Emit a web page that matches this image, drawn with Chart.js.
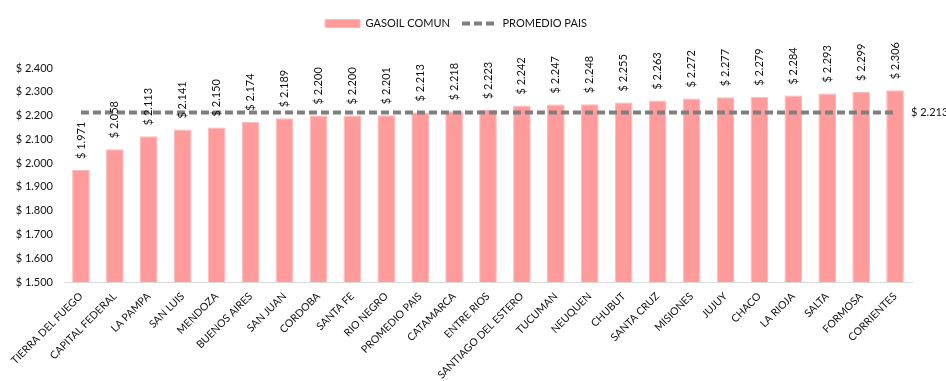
<!DOCTYPE html>
<html>
<head>
<meta charset="utf-8">
<script src="https://cdn.jsdelivr.net/npm/chart.js@4/dist/chart.umd.min.js"></script>
<style>
  html, body { margin: 0; padding: 0; background: #fff; }
  #wrap { width: 946px; height: 381px; position: relative; }
</style>
</head>
<body>
<div id="wrap"><canvas id="gasoilChart"></canvas></div>
<script>
// precio del gasoil comun por provincia
const provincias = [
    'TIERRA DEL FUEGO', 'CAPITAL FEDERAL', 'LA PAMPA', 'SAN LUIS', 'MENDOZA',
    'BUENOS AIRES', 'SAN JUAN', 'CORDOBA', 'SANTA FE', 'RIO NEGRO',
    'PROMEDIO PAIS', 'CATAMARCA', 'ENTRE RIOS', 'SANTIAGO DEL ESTERO', 'TUCUMAN',
    'NEUQUEN', 'CHUBUT', 'SANTA CRUZ', 'MISIONES', 'JUJUY',
    'CHACO', 'LA RIOJA', 'SALTA', 'FORMOSA', 'CORRIENTES'
];
const gasoilComun = [
    1971, 2058, 2113, 2141, 2150,
    2174, 2189, 2200, 2200, 2201,
    2213, 2218, 2223, 2242, 2247,
    2248, 2255, 2263, 2272, 2277,
    2279, 2284, 2293, 2299, 2306
];
const promedioPais = 2213;
const promedioSerie = provincias.map(() => promedioPais);

const yMin = 1500;
const yMax = 2400;
const yStep = 100;

const FONT = 'Lato, "Open Sans", sans-serif';
const LINE_DASH = [8, 4];

function pesos(v) {
    return '$ ' + String(Math.round(v)).replace(/\B(?=(\d{3})+(?!\d))/g, '.');
}

// deja espacio libre entre la leyenda y el area del grafico
const legendGap = {
    id: 'legendGap',
    beforeInit(chart) {
        const fit = chart.legend.fit;
        chart.legend.fit = function () {
            fit.call(this);
            this.height += 29;
        };
    }
};

// etiquetas de valor: verticales sobre cada barra, y el promedio al final de la linea
const valueLabels = {
    id: 'valueLabels',
    afterDatasetsDraw(chart) {
        const ctx = chart.ctx;
        ctx.save();
        ctx.font = '11px ' + FONT;
        ctx.fillStyle = '#111';

        const bars = chart.getDatasetMeta(0);
        bars.data.forEach((bar, i) => {
            ctx.save();
            ctx.translate(bar.x, bar.y - 11);
            ctx.rotate(-Math.PI / 2);
            ctx.textAlign = 'left';
            ctx.textBaseline = 'middle';
            ctx.fillText(pesos(chart.data.datasets[0].data[i]), 0, 0);
            ctx.restore();
        });

        const line = chart.getDatasetMeta(1);
        const n = line.data.length - 1;
        const last = line.data[n];
        ctx.textAlign = 'left';
        ctx.textBaseline = 'middle';
        ctx.fillText(pesos(chart.data.datasets[1].data[n]), last.x + 16, last.y);
        ctx.restore();
    }
};

const ctx = document.getElementById('gasoilChart').getContext('2d');
const chart = new Chart(ctx, {
    type: 'bar',
    data: {
        labels: provincias,
        datasets: [{
            label: 'GASOIL COMUN',
            data: gasoilComun,
            backgroundColor: '#ff9b9b',
            borderColor: '#ffb8b8',
            borderWidth: 1,
            pointStyle: 'rect',
            categoryPercentage: 1,
            barPercentage: 0.52,
            order: 2
        }, {
            type: 'line',
            label: 'PROMEDIO PAIS',
            data: promedioSerie,
            borderColor: '#7f7f7f',
            backgroundColor: '#7f7f7f',
            borderWidth: 4,
            borderDash: LINE_DASH,
            pointRadius: 0,
            pointHoverRadius: 0,
            pointStyle: 'line',
            fill: false,
            order: 1
        }]
    },
    options: {
        responsive: true,
        maintainAspectRatio: false,
        animation: false,
        layout: {
            padding: { top: 6, right: 34, left: 0, bottom: 0 }
        },
        plugins: {
            legend: {
                position: 'top',
                labels: {
                    usePointStyle: true,
                    pointStyleWidth: 35,
                    boxHeight: 8,
                    padding: 12,
                    color: '#111',
                    font: { family: FONT, size: 11 },
                    sort: (a, b) => a.datasetIndex - b.datasetIndex,
                    generateLabels(chart) {
                        const items = Chart.defaults.plugins.legend.labels.generateLabels(chart);
                        items.forEach((item) => {
                            if (item.datasetIndex === 1) {
                                item.lineDash = LINE_DASH;
                                item.lineWidth = 4;
                                item.strokeStyle = '#7f7f7f';
                            }
                        });
                        return items;
                    }
                }
            },
            tooltip: { enabled: false }
        },
        scales: {
            x: {
                offset: true,
                grid: { display: false, drawTicks: false },
                border: { display: true, color: '#d9d9d9', width: 1 },
                ticks: {
                    color: '#111',
                    font: { family: FONT, size: 10.5 },
                    minRotation: 45,
                    maxRotation: 45,
                    autoSkip: false,
                    padding: 8
                },
                afterFit(axis) { axis.height = 99; }
            },
            y: {
                min: yMin,
                max: yMax,
                grid: { display: false, drawTicks: false },
                border: { display: false },
                ticks: {
                    stepSize: yStep,
                    color: '#111',
                    font: { family: FONT, size: 11 },
                    padding: 11,
                    callback: (v) => pesos(v)
                },
                afterFit(axis) { axis.width = 64; }
            }
        }
    },
    plugins: [legendGap, valueLabels]
});
</script>
</body>
</html>
